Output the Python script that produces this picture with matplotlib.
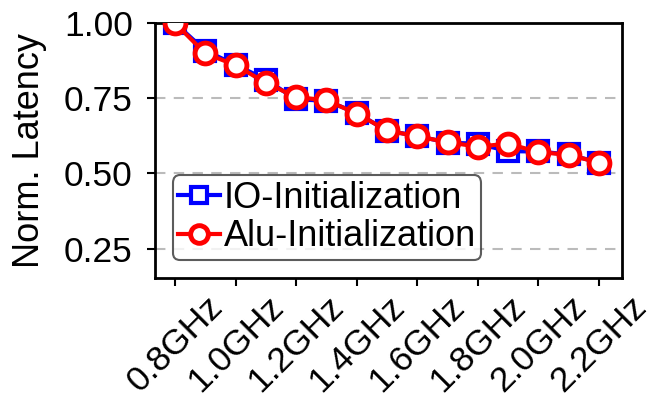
import matplotlib
matplotlib.use("Agg")
import matplotlib.pyplot as plt
import numpy as np

plt.rcParams['font.family'] = ['Liberation Sans', 'DejaVu Sans']

freqs = [0.8, 0.9, 1.0, 1.1, 1.2, 1.3, 1.4, 1.5, 1.6, 1.7, 1.8, 1.9, 2.0, 2.1, 2.2]
io_init = [1.00, 0.908, 0.861, 0.812, 0.746, 0.742, 0.701, 0.642, 0.625, 0.602, 0.599, 0.574, 0.573, 0.563, 0.536]
alu_init = [1.00, 0.899, 0.860, 0.801, 0.754, 0.743, 0.699, 0.643, 0.623, 0.604, 0.589, 0.599, 0.571, 0.562, 0.536]
tick_freqs = [0.8, 1.0, 1.2, 1.4, 1.6, 1.8, 2.0, 2.2]
tick_labels = ['0.8GHz', '1.0GHz', '1.2GHz', '1.4GHz', '1.6GHz', '1.8GHz', '2.0GHz', '2.2GHz']
yticks = [0.25, 0.50, 0.75, 1.00]

fig = plt.figure(figsize=(6.54, 4.11), dpi=100)
ax = fig.add_axes([0.237, 0.324, 0.714, 0.620])

ax.plot(freqs, io_init, color='#0000ff', lw=3, marker='s', ms=14, mew=3,
        mfc='white', mec='#0000ff', label='IO-Initialization', zorder=3)
ax.plot(freqs, alu_init, color='#ff0000', lw=3, marker='o', ms=15, mew=3.5,
        mfc='white', mec='#ff0000', label='Alu-Initialization', zorder=4)

ax.set_xlim(0.734, 2.276)
ax.set_ylim(0.153, 1.0)
ax.set_yticks(yticks)
ax.set_yticklabels(['%.2f' % v for v in yticks], fontsize=25.5)
ax.set_xticks(tick_freqs)
ax.set_xticklabels(tick_labels, fontsize=25.5, rotation=45, ha='center')
ax.set_ylabel('Norm. Latency', fontsize=26)
ax.yaxis.set_label_coords(-0.232, 0.5)

ax.yaxis.grid(True, linestyle='--', color='#bbbbbb', lw=1.5, dashes=(5, 4))
ax.set_axisbelow(True)
for s in ax.spines.values():
    s.set_linewidth(2)
ax.tick_params(width=1.5, length=6)
ax.tick_params(axis='y', pad=10)
ax.tick_params(axis='x', pad=3)

leg = ax.legend(loc='lower left', fontsize=26, handlelength=1.15, handletextpad=0.1,
                borderpad=0.15, labelspacing=0.1, borderaxespad=0.5, frameon=True,
                fancybox=True, markerscale=0.85)
leg.get_frame().set_edgecolor('#333333')
leg.get_frame().set_linewidth(1.5)

fig.savefig('out.png', dpi=100)
